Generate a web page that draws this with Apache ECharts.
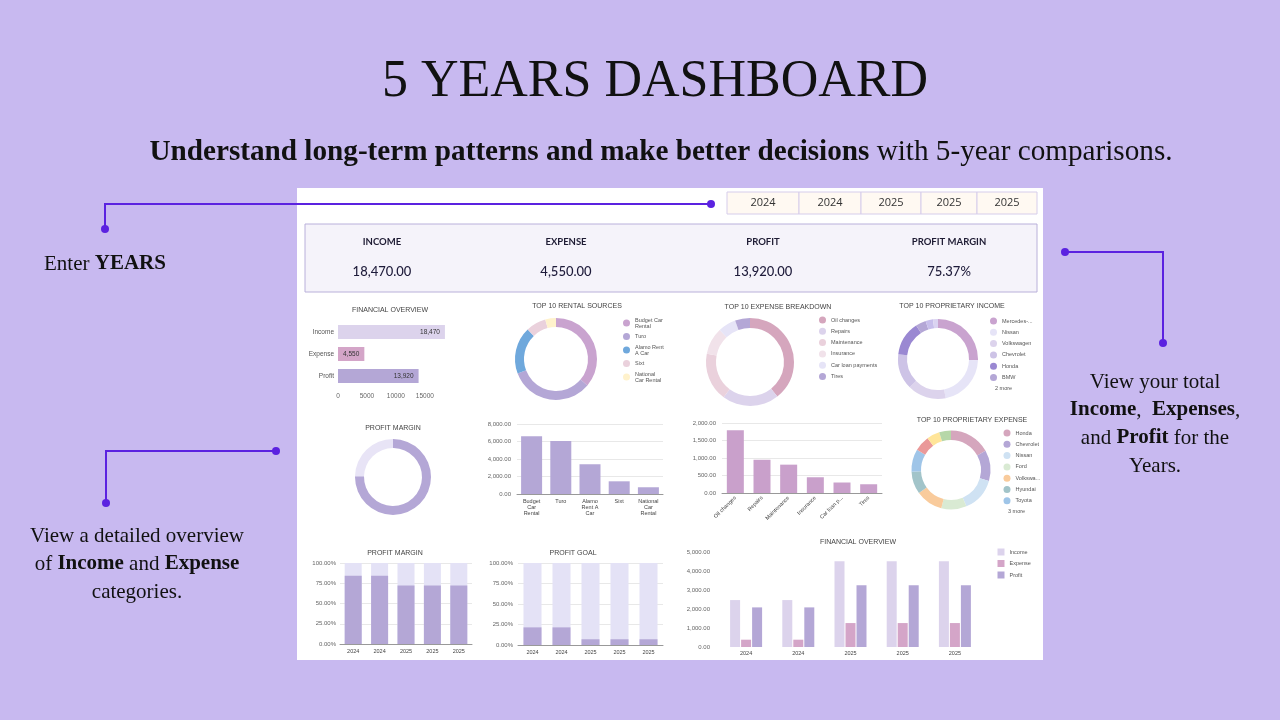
<!DOCTYPE html>
<html><head><meta charset="utf-8">
<script src="https://cdn.jsdelivr.net/npm/echarts@6/dist/echarts.min.js"></script>
<style>html,body{margin:0;padding:0;background:#C8B9F0}#c{width:1280px;height:720px}</style>
</head><body><div id="c"></div>
<script>
// ---------- DATA ----------
const years = ['2024', '2024', '2025', '2025', '2025'];
const incomeByYear = [2470, 2470, 4510, 4510, 4510];
const expenseByYear = [385, 385, 1260, 1260, 1260];
const profitByYear = [2085, 2085, 3250, 3250, 3250];
const profitMarginPct = [84.4, 84.4, 72.1, 72.1, 72.1];
const profitGoalPct = [21.5, 21.5, 7, 7, 7];

const totalLabels = ['Income', 'Expense', 'Profit'];
const totalValues = [18470, 4550, 13920];
const kpiLabels = ['INCOME', 'EXPENSE', 'PROFIT', 'PROFIT MARGIN'];

const rentalSources = ['Budget Car Rental', 'Turo', 'Alamo Rent A Car', 'Sixt', 'National Car Rental'];
const rentalValues = [6600, 6050, 3400, 1450, 770];

const expenseCats = ['Oil changes', 'Repairs', 'Maintenance', 'Insurance', 'Car loan payments', 'Tires'];
const expenseValues = [1790, 950, 810, 450, 300, 250];

const propIncomeNames = ['Mercedes-Benz', 'Nissan', 'Volkswagen', 'Chevrolet', 'Honda', 'BMW', 'Toyota', 'Ford'];
const propIncomeValues = [4710, 3950, 2880, 2660, 2570, 775, 555, 370];

const propExpenseNames = ['Honda', 'Chevrolet', 'Nissan', 'Ford', 'Volkswagen', 'Hyundai', 'Toyota', 'Kia', 'Mazda', 'Jeep'];
const propExpenseValues = [770, 570, 645, 470, 505, 420, 420, 290, 240, 220];

// ---------- STYLES ----------
const SANS = 'Liberation Sans, Arial, sans-serif';
const SERIF = 'Liberation Serif, serif';
const KPIF = 'Lato, sans-serif';
const ACC = '#5B22E0';
const C_INC = '#DCD3EC', C_EXP = '#D4A5C8', C_PRO = '#B4A7D6';
const rentalColors = ['#C9A3CF', '#B4A7D6', '#6FA8DC', '#EAD1DC', '#FFF2CC'];
const expenseColors = ['#D5A6BD', '#DCD3EC', '#EAD1DC', '#F1E2EA', '#E6E4F7', '#B4A7D6'];
const propIncColors = ['#C9A3CF', '#E6E4F7', '#DCD3EC', '#CDC3E6', '#9A88D2', '#B4A7D6', '#C7BEEB', '#DAD3F1'];
const propExpColors = ['#D5A6BD', '#B4A7D6', '#CFE2F3', '#D9EAD3', '#F9CB9C', '#A2C4C9', '#9FC5E8', '#EA9999', '#FFE599', '#B6D7A8'];

const fmt2 = v => Number(v).toLocaleString('en-US', {minimumFractionDigits: 2, maximumFractionDigits: 2});
const fmt0 = v => Number(v).toLocaleString('en-US');
const pct2 = v => Number(v).toFixed(2) + '%';

const pieData = (names, vals, cols) => names.map((n, i) => ({name: n, value: vals[i], itemStyle: {color: cols[i]}}));
const legendData = (names, cols, count) => names.slice(0, count).map((n, i) => ({name: n, itemStyle: {color: cols[i]}}));

const axLbl = (extra) => Object.assign({fontSize: 6, color: '#666', fontFamily: SANS}, extra || {});
const lgText = {fontSize: 5.5, color: '#555', fontFamily: SANS, lineHeight: 6};

// ---------- GRAPHIC ----------
const g = [];
g.push({type: 'rect', shape: {x: 297, y: 188, width: 746, height: 472}, style: {fill: '#ffffff'}, z: -10});
g.push({type: 'text', x: 655, y: 82, style: {text: '5 YEARS DASHBOARD', font: '52px ' + SERIF, fill: '#111', align: 'center', verticalAlign: 'middle'}});
g.push({type: 'text', x: 661, y: 152, style: {
  text: '{b|Understand long-term patterns and make better decisions} with 5-year comparisons.',
  fontFamily: SERIF, fontSize: 29.2, fill: '#111', align: 'center', verticalAlign: 'middle',
  rich: {b: {fontFamily: SERIF, fontSize: 29.2, fontWeight: 'bold', fill: '#111'}}
}});

// year boxes
const yx = [727, 799, 861, 921, 977, 1037];
years.forEach((y, i) => {
  g.push({type: 'rect', shape: {x: yx[i], y: 192, width: yx[i + 1] - yx[i], height: 22}, style: {fill: '#FFF9F2', stroke: '#D6CDEB', lineWidth: 1}});
  g.push({type: 'text', x: (yx[i] + yx[i + 1]) / 2, y: 203, style: {text: y, font: '11px Open Sans, sans-serif', fill: '#333', align: 'center', verticalAlign: 'middle'}});
});

// KPI box
g.push({type: 'rect', shape: {x: 305, y: 224, width: 732, height: 68}, style: {fill: '#F5F3FA', stroke: '#B9B0DA', lineWidth: 1}});
const kx = [382, 566, 763, 949];
const kpiValues = [fmt2(totalValues[0]), fmt2(totalValues[1]), fmt2(totalValues[2]), pct2(totalValues[2] / totalValues[0] * 100)];
kpiLabels.forEach((l, i) => {
  g.push({type: 'text', x: kx[i], y: 242, style: {text: l, font: 'bold 9.5px ' + KPIF, fill: '#1E1B33', align: 'center', verticalAlign: 'middle'}});
  g.push({type: 'text', x: kx[i], y: 272, style: {text: kpiValues[i], font: '500 13px ' + KPIF, fill: '#1E1B3A', align: 'center', verticalAlign: 'middle'}});
});

// sub-chart titles
const titles = [
  ['FINANCIAL OVERVIEW', 390, 310], ['TOP 10 RENTAL SOURCES', 577, 306], ['TOP 10 EXPENSE BREAKDOWN', 778, 307],
  ['TOP 10 PROPRIETARY INCOME', 952, 306], ['PROFIT MARGIN', 393, 428], ['TOP 10 PROPRIETARY EXPENSE', 972, 420],
  ['PROFIT MARGIN', 395, 553], ['PROFIT GOAL', 573, 553], ['FINANCIAL OVERVIEW', 858, 542]
];
titles.forEach(t => g.push({type: 'text', x: t[1], y: t[2], style: {text: t[0], font: '7px ' + SANS, fill: '#444', align: 'center', verticalAlign: 'middle'}}));
g.push({type: 'text', x: 995, y: 388, style: {text: '2 more', font: '5.5px ' + SANS, fill: '#555', verticalAlign: 'middle'}});
g.push({type: 'text', x: 1008, y: 511, style: {text: '3 more', font: '5.5px ' + SANS, fill: '#555', verticalAlign: 'middle'}});

// connectors
const conn = (pts) => {
  g.push({type: 'polyline', shape: {points: pts}, style: {stroke: ACC, lineWidth: 2, fill: null}});
  [pts[0], pts[pts.length - 1]].forEach(p => g.push({type: 'circle', shape: {cx: p[0], cy: p[1], r: 4}, style: {fill: ACC}}));
};
conn([[105, 229], [105, 204], [711, 204]]);
conn([[276, 451], [106, 451], [106, 503]]);
conn([[1065, 252], [1163, 252], [1163, 343]]);

const AF = 21;
const annStyle = (text, x, y) => ({type: 'text', x: x, y: y, style: {
  text: text, fontFamily: SERIF, fontSize: AF, fill: '#111', align: 'center', verticalAlign: 'top', lineHeight: 28,
  rich: {b: {fontFamily: SERIF, fontSize: AF, fontWeight: 'bold', fill: '#111', lineHeight: 28}, n: {fontFamily: SERIF, fontSize: AF, fill: '#111', lineHeight: 28}}
}});
g.push(annStyle('{n|Enter }{b|YEARS}', 105, 250));
g.push(annStyle('{n|View a detailed overview}\n{n|of }{b|Income}{n| and }{b|Expense}\n{n|categories.}', 137, 522));
g.push(annStyle('{n|View your total}\n{b|Income}{n|,  }{b|Expenses}{n|,}\n{n|and }{b|Profit}{n| for the}\n{n|Years.}', 1155, 368));

// ---------- OPTION ----------
const rentalLbl = {'Budget Car Rental': 'Budget\nCar\nRental', 'Alamo Rent A Car': 'Alamo\nRent A\nCar', 'National Car Rental': 'National\nCar\nRental'};
const rentalLeg = {'Budget Car Rental': 'Budget Car\nRental', 'Alamo Rent A Car': 'Alamo Rent\nA Car', 'National Car Rental': 'National\nCar Rental'};
const expLbl = {'Car loan payments': 'Car loan p...'};
const incLeg = {'Mercedes-Benz': 'Mercedes-...'};
const expLeg = {'Volkswagen': 'Volkswa...'};

const pieBase = {type: 'pie', startAngle: 90, clockwise: true, label: {show: false}, labelLine: {show: false}, emphasis: {disabled: true}, silent: true};
const legBase = {orient: 'vertical', padding: 0, itemWidth: 7, itemHeight: 7, icon: 'circle', textStyle: lgText, selectedMode: false};

const option = {
  animation: false,
  backgroundColor: '#C8B9F0',
  textStyle: {fontFamily: SANS},
  graphic: g,
  grid: [
    {left: 338, top: 321, width: 110, height: 66},
    {left: 517, top: 424, width: 146, height: 70},
    {left: 722, top: 423, width: 160, height: 70},
    {left: 340, top: 563, width: 132, height: 81},
    {left: 518, top: 563, width: 145, height: 82},
    {left: 720, top: 552, width: 261, height: 95}
  ],
  xAxis: [
    {type: 'value', gridIndex: 0, min: 0, max: 19000, interval: 5000, axisLabel: axLbl({fontSize: 6.5, margin: 6, showMaxLabel: false, formatter: v => String(v)}), splitLine: {show: false}, axisLine: {show: false}, axisTick: {show: false}},
    {type: 'category', gridIndex: 1, data: rentalSources, axisLabel: axLbl({interval: 0, fontSize: 5.5, lineHeight: 6, color: '#444', margin: 4, formatter: n => rentalLbl[n] || n}), axisTick: {show: false}, axisLine: {lineStyle: {color: '#999'}}},
    {type: 'category', gridIndex: 2, data: expenseCats, axisLabel: axLbl({interval: 0, rotate: 45, fontSize: 5.5, color: '#444', margin: 4, formatter: n => expLbl[n] || n}), axisTick: {show: false}, axisLine: {lineStyle: {color: '#999'}}},
    {type: 'category', gridIndex: 3, data: years, axisLabel: axLbl({fontSize: 5.5, color: '#444', margin: 4}), axisTick: {show: false}, axisLine: {lineStyle: {color: '#999'}}},
    {type: 'category', gridIndex: 4, data: years, axisLabel: axLbl({fontSize: 5.5, color: '#444', margin: 4}), axisTick: {show: false}, axisLine: {lineStyle: {color: '#999'}}},
    {type: 'category', gridIndex: 5, data: years, axisLabel: axLbl({fontSize: 5.5, color: '#444', margin: 3}), axisTick: {show: false}, axisLine: {show: false}}
  ],
  yAxis: [
    {type: 'category', gridIndex: 0, data: totalLabels, inverse: true, axisLabel: axLbl({fontSize: 6.5, color: '#555', margin: 4}), axisLine: {show: false}, axisTick: {show: false}},
    {type: 'value', gridIndex: 1, min: 0, max: 8000, interval: 2000, axisLabel: axLbl({formatter: fmt2, margin: 6}), splitLine: {lineStyle: {color: '#E8E8E8'}}},
    {type: 'value', gridIndex: 2, min: 0, max: 2000, interval: 500, axisLabel: axLbl({formatter: fmt2, margin: 6}), splitLine: {lineStyle: {color: '#E8E8E8'}}},
    {type: 'value', gridIndex: 3, min: 0, max: 100, interval: 25, axisLabel: axLbl({formatter: pct2, margin: 4}), splitLine: {lineStyle: {color: '#E8E8E8'}}},
    {type: 'value', gridIndex: 4, min: 0, max: 100, interval: 25, axisLabel: axLbl({formatter: pct2, margin: 5}), splitLine: {lineStyle: {color: '#E8E8E8'}}},
    {type: 'value', gridIndex: 5, min: 0, max: 5000, interval: 1000, axisLabel: axLbl({formatter: fmt2, margin: 10}), splitLine: {show: false}}
  ],
  legend: [
    Object.assign({}, legBase, {left: 623, top: 317, itemGap: 4, data: legendData(rentalSources, rentalColors, 5), formatter: n => rentalLeg[n] || n}),
    Object.assign({}, legBase, {left: 819, top: 316.5, itemGap: 4.3, data: legendData(expenseCats, expenseColors, 6)}),
    Object.assign({}, legBase, {left: 990, top: 317.5, itemGap: 4.3, data: legendData(propIncomeNames, propIncColors, 6), formatter: n => incLeg[n] || n}),
    Object.assign({}, legBase, {left: 1003.5, top: 429.5, itemGap: 4.3, data: legendData(propExpenseNames, propExpColors, 7), formatter: n => expLeg[n] || n}),
    Object.assign({}, legBase, {left: 997.5, top: 548.5, itemGap: 4.5, icon: 'rect', data: legendData(totalLabels, [C_INC, C_EXP, C_PRO], 3)})
  ],
  series: [
    {type: 'bar', xAxisIndex: 0, yAxisIndex: 0, barWidth: 14, silent: true,
      data: totalValues.map((v, i) => ({value: v, itemStyle: {color: [C_INC, C_EXP, C_PRO][i]}})),
      label: {show: true, position: 'insideRight', fontSize: 6.5, color: '#333', fontFamily: SANS, formatter: p => fmt0(p.value)}},
    Object.assign({}, pieBase, {name: 'Rental sources', center: [556, 359], radius: [32, 41], data: pieData(rentalSources, rentalValues, rentalColors)}),
    Object.assign({}, pieBase, {name: 'Expense breakdown', center: [750, 362], radius: [34, 44], data: pieData(expenseCats, expenseValues, expenseColors)}),
    Object.assign({}, pieBase, {name: 'Proprietary income', center: [938, 359], radius: [31, 40], data: pieData(propIncomeNames, propIncomeValues, propIncColors)}),
    Object.assign({}, pieBase, {name: 'Profit margin', center: [393, 477], radius: [29, 38],
      data: [{name: 'Margin', value: totalValues[2], itemStyle: {color: C_PRO}}, {name: 'Cost share', value: totalValues[1], itemStyle: {color: '#E8E4F6'}}]}),
    Object.assign({}, pieBase, {name: 'Proprietary expense', center: [951, 470], radius: [30, 39.5], data: pieData(propExpenseNames, propExpenseValues, propExpColors)}),
    {type: 'bar', name: 'Rental', xAxisIndex: 1, yAxisIndex: 1, barWidth: 21, data: rentalValues, itemStyle: {color: C_PRO}, silent: true},
    {type: 'bar', name: 'Expense cat', xAxisIndex: 2, yAxisIndex: 2, barWidth: 17, data: expenseValues, itemStyle: {color: '#C9A0CB'}, silent: true},
    {type: 'bar', name: 'Margin %', xAxisIndex: 3, yAxisIndex: 3, barWidth: 17, data: profitMarginPct, itemStyle: {color: C_PRO}, showBackground: true, backgroundStyle: {color: '#E4E2F6'}, silent: true},
    {type: 'bar', name: 'Goal %', xAxisIndex: 4, yAxisIndex: 4, barWidth: 18, data: profitGoalPct, itemStyle: {color: C_PRO}, showBackground: true, backgroundStyle: {color: '#E4E2F6'}, silent: true},
    {type: 'bar', name: 'Income', xAxisIndex: 5, yAxisIndex: 5, barWidth: 10, barGap: '10%', data: incomeByYear, itemStyle: {color: C_INC}, silent: true},
    {type: 'bar', name: 'Expense', xAxisIndex: 5, yAxisIndex: 5, barWidth: 10, barGap: '10%', data: expenseByYear, itemStyle: {color: C_EXP}, silent: true},
    {type: 'bar', name: 'Profit', xAxisIndex: 5, yAxisIndex: 5, barWidth: 10, barGap: '10%', data: profitByYear, itemStyle: {color: C_PRO}, silent: true}
  ]
};

const chart = echarts.init(document.getElementById('c'), null, {renderer: 'canvas'});
chart.setOption(option);
</script></body></html>
